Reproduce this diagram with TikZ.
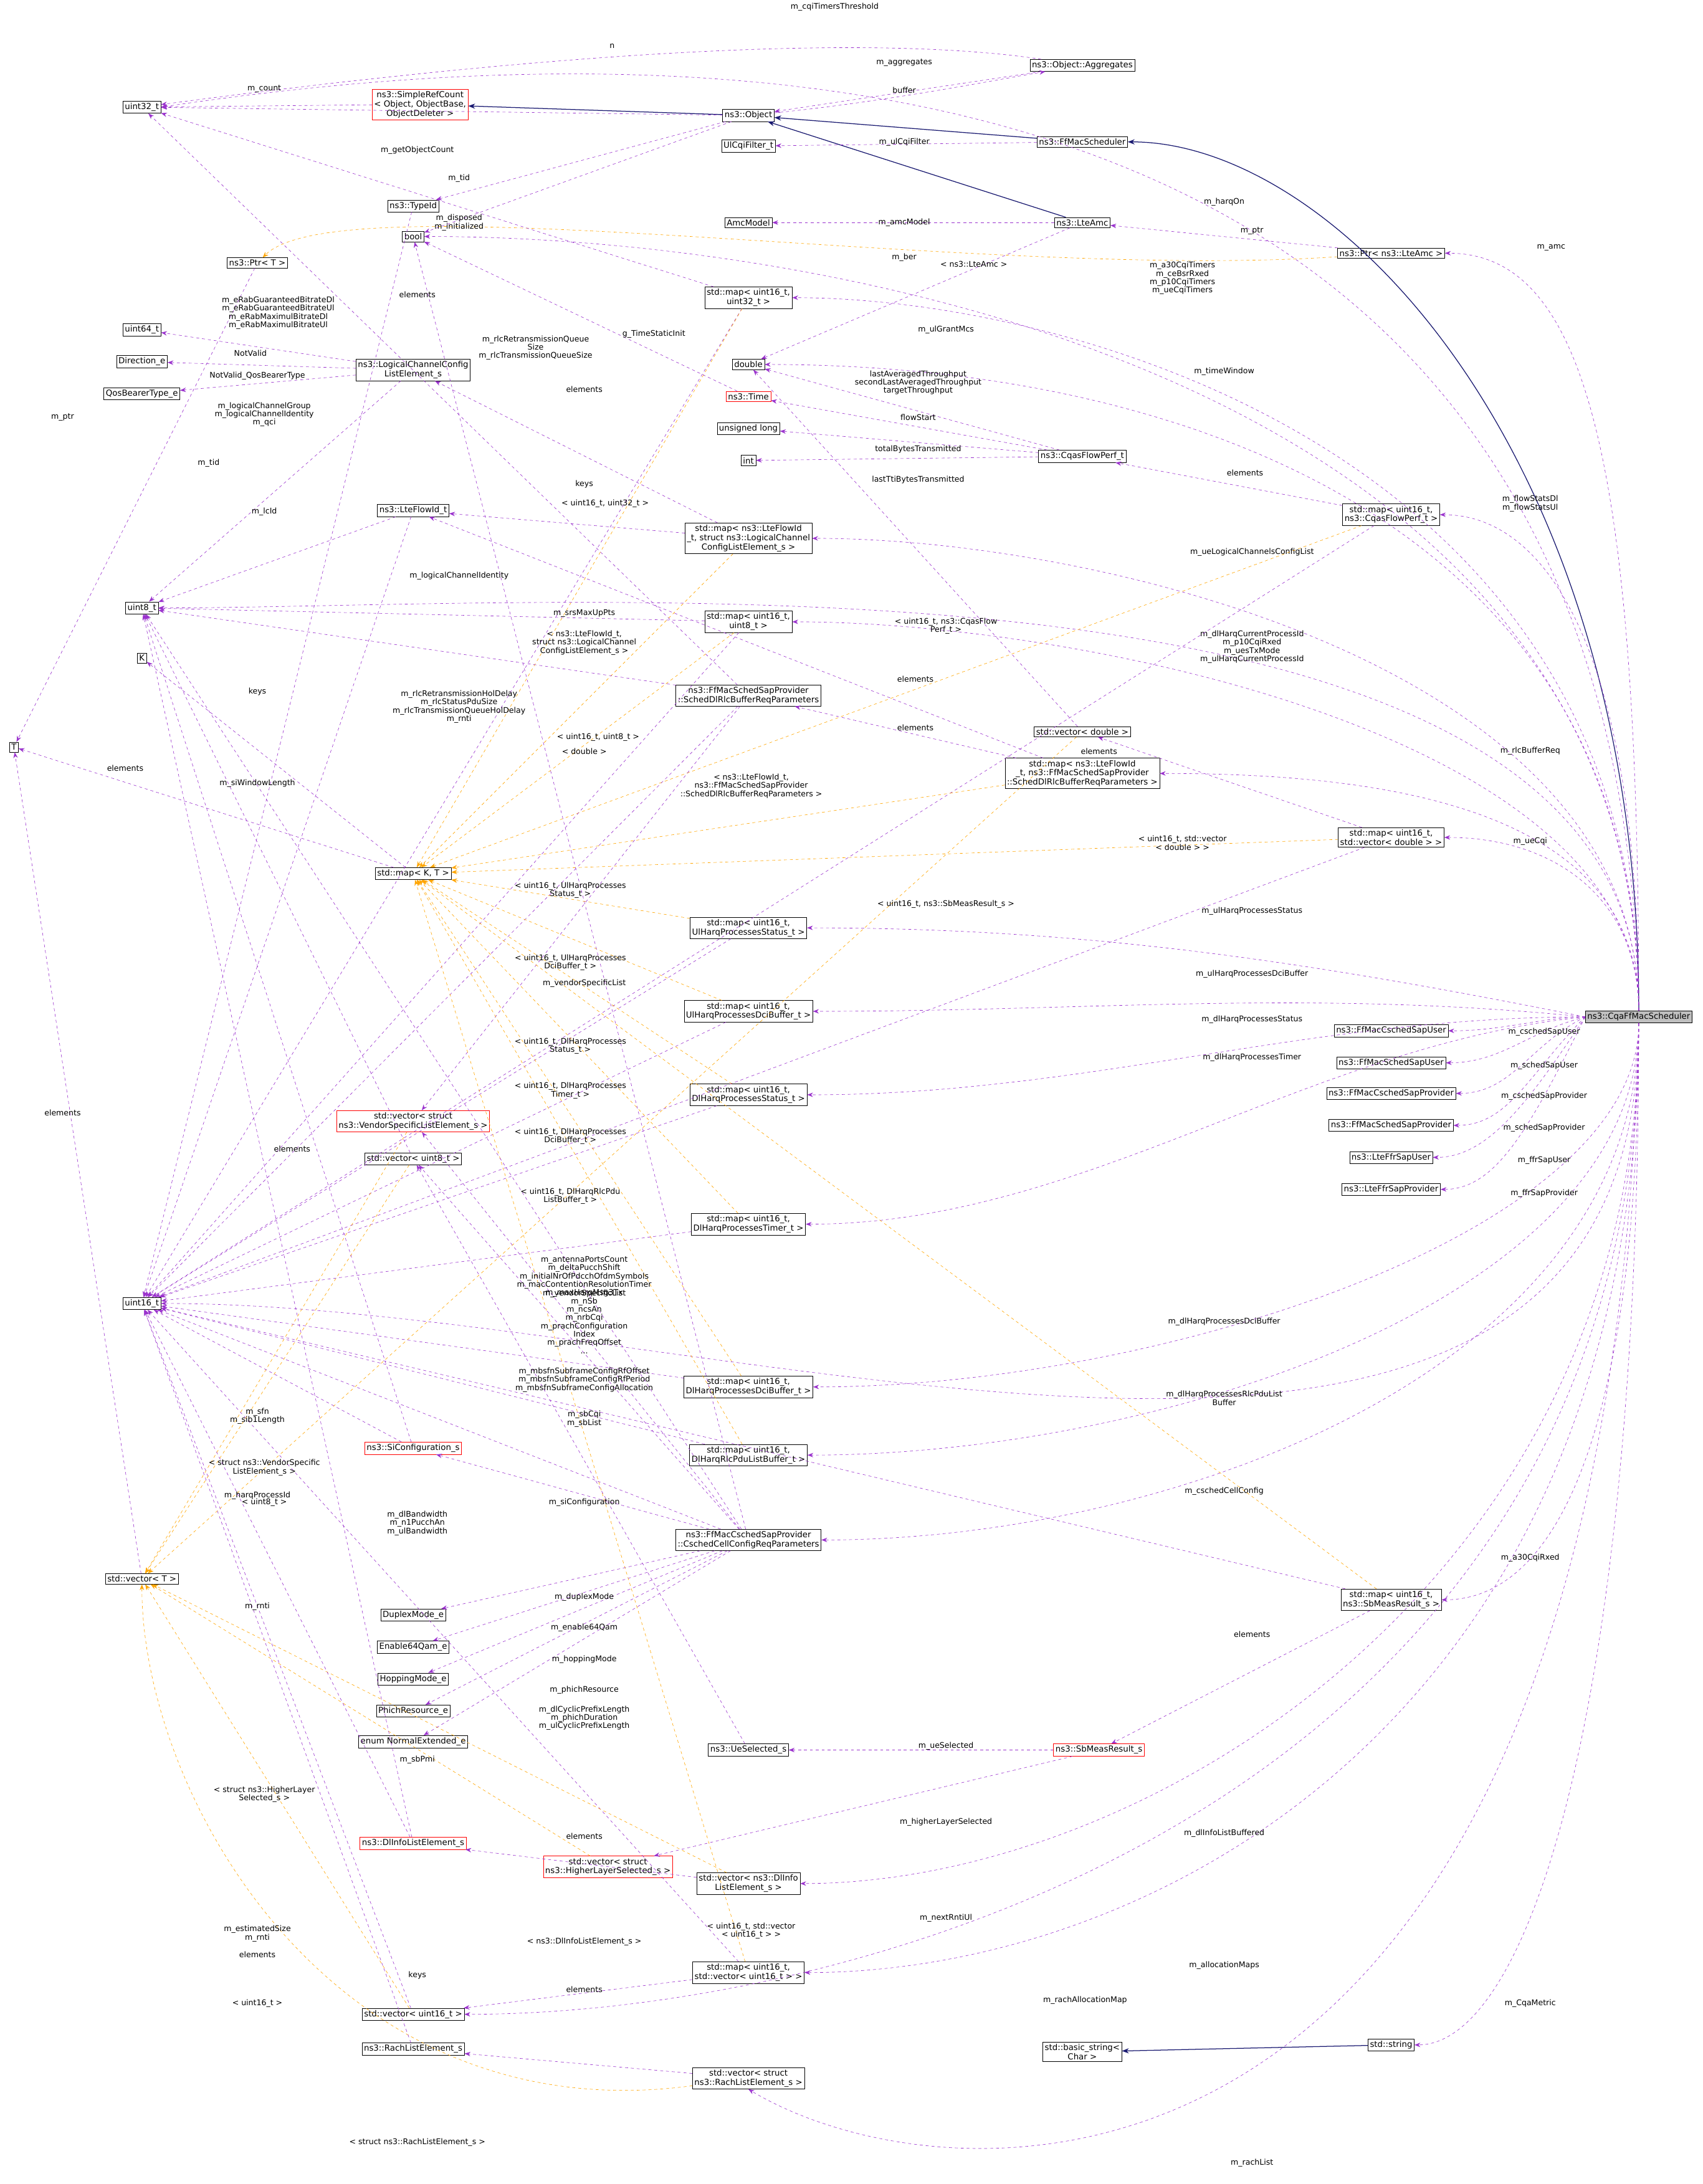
\documentclass[tikz,border=0pt]{standalone}
\usepackage{fontspec}
\setmainfont{DejaVu Sans}
\usepackage{xcolor}
\usetikzlibrary{arrows.meta,shapes,calc}
\definecolor{mem}{HTML}{9A32CD}
\definecolor{tpl}{HTML}{FFA500}
\definecolor{inh}{HTML}{191970}
\begin{document}
\begin{tikzpicture}[x=0.05cm,y=-0.05cm,font=\fontsize{8.5}{9.5}\selectfont]
            \tikzset{box/.style = {draw, inner sep=2pt, align=center, fill=white, font=\fontsize{8.5}{9.5}\selectfont}}
            \tikzset{redbox/.style = {box, draw=red}}
            \tikzset{use/.style = {mem, dashed, -{Stealth[length=6pt]}}}
            \tikzset{inst/.style = {tpl, dashed, -{Stealth[length=6pt]}}}
            \tikzset{base/.style = {inh, thick, -{Stealth[length=7pt,open,fill=inh]}}}
            \tikzset{lbl/.style = {align=center, inner sep=0pt, font=\fontsize{8}{8.5}\selectfont}}
            \useasboundingbox (0,0) rectangle (1224,1570);

            % left column
            \node[box] (u32) at (102,77) {uint32\_t};
            \node[box] (u64) at (102,237) {uint64\_t};
            \node[box] (dir) at (102,260) {Direction\_e};
            \node[box] (qos) at (102,283) {QosBearerType\_e};
            \node[box] (u8) at (102,437) {uint8\_t};
            \node[box] (K) at (102,473) {K};
            \node[box] (T) at (10,537) {T};
            \node[box] (u16) at (102,937) {uint16\_t};
            \node[box] (vecT) at (102,1135) {std::vector\textless{} T \textgreater{}};

            % second column
            \node[redbox] (src) at (302,75) {ns3::SimpleRefCount\\\textless{} Object, ObjectBase,\\ ObjectDeleter \textgreater{}};
            \node[box] (ptrT) at (185,189) {ns3::Ptr\textless{} T \textgreater{}};
            \node[box] (tid) at (297,148) {ns3::TypeId};
            \node[box] (bool) at (297,170) {bool};
            \node[box] (lcc) at (297,266) {ns3::LogicalChannelConfig\\ListElement\_s};
            \node[box] (flow) at (297,367) {ns3::LteFlowId\_t};
            \node[box] (mapKT) at (297,628) {std::map\textless{} K, T \textgreater{}};
            \node[redbox] (vvs) at (297,806) {std::vector\textless{} struct\\ ns3::VendorSpecificListElement\_s \textgreater{}};
            \node[box] (vu8) at (297,833) {std::vector\textless{} uint8\_t \textgreater{}};
            \node[redbox] (sic) at (297,1041) {ns3::SiConfiguration\_s};
            \node[box] (dup) at (297,1161) {DuplexMode\_e};
            \node[box] (e64) at (297,1184) {Enable64Qam\_e};
            \node[box] (hop) at (297,1207) {HoppingMode\_e};
            \node[box] (phi) at (297,1230) {PhichResource\_e};
            \node[box] (nex) at (297,1252) {enum NormalExtended\_e};
            \node[redbox] (dli) at (297,1325) {ns3::DlInfoListElement\_s};
            \node[box] (vu16) at (297,1448) {std::vector\textless{} uint16\_t \textgreater{}};
            \node[box] (rle) at (297,1473) {ns3::RachListElement\_s};

            % third column
            \node[box] (obj) at (538,83) {ns3::Object};
            \node[box] (ulf) at (538,105) {UlCqiFilter\_t};
            \node[box] (amcm) at (538,160) {AmcModel};
            \node[box] (m1632) at (538,214) {std::map\textless{} uint16\_t,\\ uint32\_t \textgreater{}};
            \node[box] (dbl) at (538,262) {double};
            \node[redbox] (time) at (538,285) {ns3::Time};
            \node[box] (ulong) at (538,308) {unsigned long};
            \node[box] (int) at (538,331) {int};
            \node[box] (mflc) at (538,387) {std::map\textless{} ns3::LteFlowId\\\_t, struct ns3::LogicalChannel\\ConfigListElement\_s \textgreater{}};
            \node[box] (m168) at (538,447) {std::map\textless{} uint16\_t,\\ uint8\_t \textgreater{}};
            \node[box] (rlcp) at (538,500) {ns3::FfMacSchedSapProvider\\::SchedDlRlcBufferReqParameters};
            \node[box] (mus) at (538,667) {std::map\textless{} uint16\_t,\\ UlHarqProcessesStatus\_t \textgreater{}};
            \node[box] (mud) at (538,727) {std::map\textless{} uint16\_t,\\ UlHarqProcessesDciBuffer\_t \textgreater{}};
            \node[box] (mds) at (538,787) {std::map\textless{} uint16\_t,\\ DlHarqProcessesStatus\_t \textgreater{}};
            \node[box] (mdt) at (538,880) {std::map\textless{} uint16\_t,\\ DlHarqProcessesTimer\_t \textgreater{}};
            \node[box] (mdd) at (538,997) {std::map\textless{} uint16\_t,\\ DlHarqProcessesDciBuffer\_t \textgreater{}};
            \node[box] (mdr) at (538,1046) {std::map\textless{} uint16\_t,\\ DlHarqRlcPduListBuffer\_t \textgreater{}};
            \node[box] (ccp) at (538,1107) {ns3::FfMacCschedSapProvider\\::CschedCellConfigReqParameters};
            \node[box] (ues) at (538,1258) {ns3::UeSelected\_s};
            \node[redbox] (vhl) at (437,1342) {std::vector\textless{} struct\\ ns3::HigherLayerSelected\_s \textgreater{}};
            \node[box] (vdli) at (538,1354) {std::vector\textless{} ns3::DlInfo\\ListElement\_s \textgreater{}};
            \node[box] (mvu16) at (538,1418) {std::map\textless{} uint16\_t,\\ std::vector\textless{} uint16\_t \textgreater{} \textgreater{}};
            \node[box] (vrle) at (538,1494) {std::vector\textless{} struct\\ ns3::RachListElement\_s \textgreater{}};

            % fourth column
            \node[box] (agg) at (778,47) {ns3::Object::Aggregates};
            \node[box] (ffs) at (778,102) {ns3::FfMacScheduler};
            \node[box] (amc) at (778,160) {ns3::LteAmc};
            \node[box] (pamc) at (1000,182) {ns3::Ptr\textless{} ns3::LteAmc \textgreater{}};
            \node[box] (cfp) at (778,328) {ns3::CqasFlowPerf\_t};
            \node[box] (mcfp) at (1000,370) {std::map\textless{} uint16\_t,\\ ns3::CqasFlowPerf\_t \textgreater{}};
            \node[box] (vdbl) at (778,526) {std::vector\textless{} double \textgreater{}};
            \node[box] (mfrl) at (778,556) {std::map\textless{} ns3::LteFlowId\\\_t, ns3::FfMacSchedSapProvider\\::SchedDlRlcBufferReqParameters \textgreater{}};
            \node[box] (mvd) at (1000,602) {std::map\textless{} uint16\_t,\\ std::vector\textless{} double \textgreater{} \textgreater{}};
            \node[box] (csu) at (1000,741) {ns3::FfMacCschedSapUser};
            \node[box] (ssu) at (1000,764) {ns3::FfMacSchedSapUser};
            \node[box] (csp) at (1000,786) {ns3::FfMacCschedSapProvider};
            \node[box] (ssp) at (1000,809) {ns3::FfMacSchedSapProvider};
            \node[box] (fsu) at (1000,832) {ns3::LteFfrSapUser};
            \node[box] (fsp) at (1000,855) {ns3::LteFfrSapProvider};
            \node[box] (msb) at (1000,1150) {std::map\textless{} uint16\_t,\\ ns3::SbMeasResult\_s \textgreater{}};
            \node[redbox] (sbm) at (790,1258) {ns3::SbMeasResult\_s};
            \node[box] (bstr) at (778,1475) {std::basic\_string\textless{}\\ Char \textgreater{}};
            \node[box] (str) at (1000,1470) {std::string};
            \node[box, fill={rgb,255:red,191;green,191;blue,191}] (cqa) at (1178,731) {ns3::CqaFfMacScheduler};

            % inheritance
            \draw[base] (cqa.north) .. controls +(0,-400) and +(150,0) .. (ffs.east);
            \draw[base] (ffs) -- (obj);
            \draw[base] (amc) -- (obj);
            \draw[base] (obj) -- (src);
            \draw[base] (str) -- (bstr);

            % members of the scheduler
            \draw[use] (cqa.north) .. controls +(-10,-650) and +(500,-75) .. (u32.east);
            \draw[use] (cqa.north) .. controls +(0,-400) and +(100,0) .. (pamc.east);
            \draw[use] (cqa.north) .. controls +(0,-400) and +(200,0) .. (m1632.east);
            \draw[use] (cqa.north) .. controls +(0,-450) and +(300,0) .. (bool.east);
            \draw[use] (cqa.north) .. controls +(0,-350) and +(300,0) .. (u8.east);
            \draw[use] (cqa.north) .. controls +(0,-350) and +(300,0) .. (dbl.east);
            \draw[use] (cqa.north) .. controls +(0,-250) and +(80,0) .. (mcfp.east);
            \draw[use] (cqa.north) .. controls +(0,-250) and +(200,0) .. (mflc.east);
            \draw[use] (cqa.north) .. controls +(0,-200) and +(200,0) .. (m168.east);
            \draw[use] (cqa.north) .. controls +(0,-150) and +(150,0) .. (mfrl.east);
            \draw[use] (cqa.north) .. controls +(0,-80) and +(80,0) .. (mvd.east);
            \draw[use] (cqa.west) .. controls +(-200,-40) and +(200,0) .. (mus.east);
            \draw[use] (cqa.west) .. controls +(-200,-20) and +(200,0) .. (mud.east);
            \draw[use] (cqa.west) .. controls +(-200,0) and +(200,0) .. (mds.east);
            \draw[use] (cqa.west) .. controls +(-200,20) and +(200,0) .. (mdt.east);
            \draw[use] (cqa.west) .. controls +(-30,0) and +(40,0) .. (csu.east);
            \draw[use] (cqa.west) .. controls +(-40,10) and +(40,0) .. (ssu.east);
            \draw[use] (cqa.west) .. controls +(-40,20) and +(40,0) .. (csp.east);
            \draw[use] (cqa.west) .. controls +(-40,40) and +(40,0) .. (ssp.east);
            \draw[use] (cqa.west) .. controls +(-40,60) and +(40,0) .. (fsu.east);
            \draw[use] (cqa.west) .. controls +(-40,80) and +(40,0) .. (fsp.east);
            \draw[use] (cqa.south) .. controls +(0,150) and +(250,0) .. (mdd.east);
            \draw[use] (cqa.south) .. controls +(0,200) and +(250,0) .. (mdr.east);
            \draw[use] (cqa.south) .. controls +(0,250) and +(250,0) .. (ccp.east);
            \draw[use] (cqa.south) .. controls +(0,300) and +(80,0) .. (msb.east);
            \draw[use] (cqa.south) .. controls +(0,400) and +(250,0) .. (vdli.east);
            \draw[use] (cqa.south) .. controls +(0,450) and +(400,0) .. (u16.east);
            \draw[use] (cqa.south) .. controls +(0,500) and +(250,0) .. (mvu16.east);
            \draw[use] (cqa.south) .. controls +(0,550) and +(300,0) .. (vu16.east);
            \draw[use] (cqa.south) .. controls +(0,500) and +(80,0) .. (str.east);
            \draw[use] (cqa.south) .. controls +(-20,880) and +(150,90) .. (vrle.south);
            \node[lbl] (l1) at (600,5) {m\_cqiTimersThreshold};
            \node[lbl] (l2) at (1115,178) {m\_amc};
            \node[lbl] (l3) at (850,200) {m\_a30CqiTimers\\m\_ceBsrRxed\\m\_p10CqiTimers\\m\_ueCqiTimers};
            \node[lbl] (l4) at (880,145) {m\_harqOn};
            \node[lbl] (l5) at (680,237) {m\_ulGrantMcs};
            \node[lbl] (l6) at (880,267) {m\_timeWindow};
            \node[lbl] (l7) at (1100,362) {m\_flowStatsDl\\m\_flowStatsUl};
            \node[lbl] (l8) at (900,397) {m\_ueLogicalChannelsConfigList};
            \node[lbl] (l9) at (900,465) {m\_dlHarqCurrentProcessId\\m\_p10CqiRxed\\m\_uesTxMode\\m\_ulHarqCurrentProcessId};
            \node[lbl] (l10) at (1100,540) {m\_rlcBufferReq};
            \node[lbl] (l11) at (1100,605) {m\_ueCqi};
            \node[lbl] (l12) at (900,655) {m\_ulHarqProcessesStatus};
            \node[lbl] (l13) at (900,700) {m\_ulHarqProcessesDciBuffer};
            \node[lbl] (l14) at (900,733) {m\_dlHarqProcessesStatus};
            \node[lbl] (l15) at (900,760) {m\_dlHarqProcessesTimer};
            \node[lbl] (l16) at (1110,742) {m\_cschedSapUser};
            \node[lbl] (l17) at (1110,766) {m\_schedSapUser};
            \node[lbl] (l18) at (1110,788) {m\_cschedSapProvider};
            \node[lbl] (l19) at (1110,811) {m\_schedSapProvider};
            \node[lbl] (l20) at (1110,834) {m\_ffrSapUser};
            \node[lbl] (l21) at (1110,858) {m\_ffrSapProvider};
            \node[lbl] (l22) at (880,950) {m\_dlHarqProcessesDciBuffer};
            \node[lbl] (l23) at (880,1005) {m\_dlHarqProcessesRlcPduList\\Buffer};
            \node[lbl] (l24) at (880,1072) {m\_cschedCellConfig};
            \node[lbl] (l25) at (1100,1120) {m\_a30CqiRxed};
            \node[lbl] (l26) at (880,1318) {m\_dlInfoListBuffered};
            \node[lbl] (l27) at (680,1379) {m\_nextRntiUl};
            \node[lbl] (l28) at (880,1413) {m\_allocationMaps};
            \node[lbl] (l29) at (780,1438) {m\_rachAllocationMap};
            \node[lbl] (l30) at (1100,1440) {m\_CqaMetric};
            \node[lbl] (l31) at (900,1555) {m\_rachList};

            % members of the other classes
            \draw[use] (obj) -- (u32);
            \draw[use] (src) -- (u32);
            \draw[use] (agg) .. controls +(-200,-30) and +(150,-20) .. (u32);
            \draw[use] (agg) -- (obj);
            \draw[use] (obj) .. controls +(100,-10) and +(-60,10) .. (agg);
            \draw[use] (obj) -- (tid);
            \draw[use] (obj) -- (bool);
            \draw[use] (ffs) -- (ulf);
            \draw[use] (amc) -- (amcm);
            \draw[use] (amc) -- (dbl);
            \draw[use] (pamc) -- (amc);
            \draw[inst] (pamc) .. controls +(-300,20) and +(60,-60) .. (ptrT);
            \draw[use] (ptrT) -- (T);
            \draw[use] (tid) -- (u16);
            \draw[use] (m1632) -- (u32);
            \draw[use] (m1632) -- (u16);
            \draw[inst] (m1632) -- (mapKT);
            \draw[use] (time) -- (bool);
            \draw[use] (lcc) -- (u64);
            \draw[use] (lcc) -- (dir);
            \draw[use] (lcc) -- (qos);
            \draw[use] (lcc) -- (u8);
            \draw[use] (cfp) -- (dbl);
            \draw[use] (cfp) -- (time);
            \draw[use] (cfp) -- (ulong);
            \draw[use] (cfp) -- (int);
            \draw[use] (mcfp) -- (cfp);
            \draw[use] (mcfp) -- (u16);
            \draw[inst] (mcfp) -- (mapKT);
            \draw[use] (flow) -- (u8);
            \draw[use] (flow) -- (u16);
            \draw[use] (mflc) -- (lcc);
            \draw[use] (mflc) -- (flow);
            \draw[inst] (mflc) -- (mapKT);
            \draw[use] (m168) -- (u8);
            \draw[use] (m168) -- (u16);
            \draw[inst] (m168) -- (mapKT);
            \draw[use] (rlcp) -- (u8);
            \draw[use] (rlcp) -- (u16);
            \draw[use] (rlcp) -- (u32);
            \draw[use] (rlcp) -- (vvs);
            \draw[use] (vdbl) -- (dbl);
            \draw[inst] (vdbl) -- (vecT);
            \draw[use] (mfrl) -- (rlcp);
            \draw[use] (mfrl) -- (flow);
            \draw[inst] (mfrl) -- (mapKT);
            \draw[use] (mvd) -- (vdbl);
            \draw[use] (mvd) -- (u16);
            \draw[inst] (mvd) -- (mapKT);
            \draw[use] (mapKT) -- (K);
            \draw[use] (mapKT) -- (T);
            \draw[use] (mus) -- (u16);
            \draw[inst] (mus) -- (mapKT);
            \draw[use] (mud) -- (u16);
            \draw[inst] (mud) -- (mapKT);
            \draw[use] (mds) -- (u16);
            \draw[inst] (mds) -- (mapKT);
            \draw[use] (mdt) -- (u16);
            \draw[inst] (mdt) -- (mapKT);
            \draw[use] (mdd) -- (u16);
            \draw[inst] (mdd) -- (mapKT);
            \draw[use] (mdr) -- (u16);
            \draw[inst] (mdr) -- (mapKT);
            \draw[use] (msb) -- (sbm);
            \draw[use] (msb) -- (u16);
            \draw[inst] (msb) -- (mapKT);
            \draw[use] (mvu16) -- (vu16);
            \draw[use] (mvu16) -- (u16);
            \draw[inst] (mvu16) -- (mapKT);
            \draw[inst] (vvs) -- (vecT);
            \draw[use] (vu8) -- (u8);
            \draw[inst] (vu8) -- (vecT);
            \draw[use] (vu16) -- (u16);
            \draw[inst] (vu16) -- (vecT);
            \draw[use] (vrle) -- (rle);
            \draw[inst] (vrle) .. controls +(-300,40) and +(0,150) .. (vecT.south);
            \draw[inst] (vhl) -- (vecT);
            \draw[use] (vdli) -- (dli);
            \draw[inst] (vdli) -- (vecT);
            \draw[use] (vecT) -- (T);
            \draw[use] (ccp) -- (sic);
            \draw[use] (ccp) -- (u8);
            \draw[use] (ccp) -- (u16);
            \draw[use] (ccp) -- (bool);
            \draw[use] (ccp) -- (dup);
            \draw[use] (ccp) -- (e64);
            \draw[use] (ccp) -- (hop);
            \draw[use] (ccp) -- (phi);
            \draw[use] (ccp) -- (nex);
            \draw[use] (ccp) -- (vu8);
            \draw[use] (ccp) -- (vvs);
            \draw[use] (sic) -- (u8);
            \draw[use] (sic) -- (u16);
            \draw[use] (dli) -- (u8);
            \draw[use] (dli) -- (u16);
            \draw[use] (ues) -- (vu8);
            \draw[use] (sbm) -- (ues);
            \draw[use] (sbm) -- (vhl);
            \draw[use] (rle) -- (u16);

            \node[lbl] (k1) at (300,108) {m\_getObjectCount};
            \node[lbl] (k2) at (190,64) {m\_count};
            \node[lbl] (k3) at (440,33) {n};
            \node[lbl] (k4) at (650,45) {m\_aggregates};
            \node[lbl] (k5) at (650,65) {buffer};
            \node[lbl] (k6) at (330,128) {m\_tid};
            \node[lbl] (k7) at (330,160) {m\_disposed\\m\_initialized};
            \node[lbl] (k8) at (650,102) {m\_ulCqiFilter};
            \node[lbl] (k9) at (650,160) {m\_amcModel};
            \node[lbl] (k10) at (650,185) {m\_ber};
            \node[lbl] (k11) at (900,166) {m\_ptr};
            \node[lbl] (k12) at (700,190) {\textless{} ns3::LteAmc \textgreater{}};
            \node[lbl] (k13) at (45,300) {m\_ptr};
            \node[lbl] (k14) at (150,333) {m\_tid};
            \node[lbl] (k15) at (300,212) {elements};
            \node[lbl] (k16) at (435,362) {\textless{} uint16\_t, uint32\_t \textgreater{}};
            \node[lbl] (k17) at (470,240) {g\_TimeStaticInit};
            \node[lbl] (k18) at (200,225) {m\_eRabGuaranteedBitrateDl\\m\_eRabGuaranteedBitrateUl\\m\_eRabMaximulBitrateDl\\m\_eRabMaximulBitrateUl};
            \node[lbl] (k19) at (180,254) {NotValid};
            \node[lbl] (k20) at (185,270) {NotValid\_QosBearerType};
            \node[lbl] (k21) at (190,298) {m\_logicalChannelGroup\\m\_logicalChannelIdentity\\m\_qci};
            \node[lbl] (k22) at (660,275) {lastAveragedThroughput\\secondLastAveragedThroughput\\targetThroughput};
            \node[lbl] (k23) at (660,300) {flowStart};
            \node[lbl] (k24) at (660,323) {totalBytesTransmitted};
            \node[lbl] (k25) at (660,345) {lastTtiBytesTransmitted};
            \node[lbl] (k26) at (895,340) {elements};
            \node[lbl] (k27) at (680,450) {\textless{} uint16\_t, ns3::CqasFlow\\Perf\_t \textgreater{}};
            \node[lbl] (k28) at (190,368) {m\_lcId};
            \node[lbl] (k29) at (420,280) {elements};
            \node[lbl] (k30) at (420,348) {keys};
            \node[lbl] (k31) at (420,462) {\textless{} ns3::LteFlowId\_t,\\struct ns3::LogicalChannel\\ConfigListElement\_s \textgreater{}};
            \node[lbl] (k32) at (430,530) {\textless{} uint16\_t, uint8\_t \textgreater{}};
            \node[lbl] (k33) at (330,414) {m\_logicalChannelIdentity};
            \node[lbl] (k34) at (330,508) {m\_rlcRetransmissionHolDelay\\m\_rlcStatusPduSize\\m\_rlcTransmissionQueueHolDelay\\m\_rnti};
            \node[lbl] (k35) at (385,250) {m\_rlcRetransmissionQueue\\Size\\m\_rlcTransmissionQueueSize};
            \node[lbl] (k36) at (420,707) {m\_vendorSpecificList};
            \node[lbl] (k37) at (658,488) {elements};
            \node[lbl] (k38) at (420,540) {\textless{} double \textgreater{}};
            \node[lbl] (k39) at (658,523) {elements};
            \node[lbl] (k40) at (540,565) {\textless{} ns3::LteFlowId\_t,\\ns3::FfMacSchedSapProvider\\::SchedDlRlcBufferReqParameters \textgreater{}};
            \node[lbl] (k41) at (790,540) {elements};
            \node[lbl] (k42) at (850,606) {\textless{} uint16\_t, std::vector\\\textless{} double \textgreater{} \textgreater{}};
            \node[lbl] (k43) at (185,497) {keys};
            \node[lbl] (k44) at (90,552) {elements};
            \node[lbl] (k45) at (410,640) {\textless{} uint16\_t, UlHarqProcesses\\Status\_t \textgreater{}};
            \node[lbl] (k46) at (410,692) {\textless{} uint16\_t, UlHarqProcesses\\DciBuffer\_t \textgreater{}};
            \node[lbl] (k47) at (410,752) {\textless{} uint16\_t, DlHarqProcesses\\Status\_t \textgreater{}};
            \node[lbl] (k48) at (410,784) {\textless{} uint16\_t, DlHarqProcesses\\Timer\_t \textgreater{}};
            \node[lbl] (k49) at (410,817) {\textless{} uint16\_t, DlHarqProcesses\\DciBuffer\_t \textgreater{}};
            \node[lbl] (k50) at (410,860) {\textless{} uint16\_t, DlHarqRlcPdu\\ListBuffer\_t \textgreater{}};
            \node[lbl] (k51) at (680,650) {\textless{} uint16\_t, ns3::SbMeasResult\_s \textgreater{}};
            \node[lbl] (k52) at (900,1175) {elements};
            \node[lbl] (k53) at (420,1430) {elements};
            \node[lbl] (k54) at (300,1420) {keys};
            \node[lbl] (k55) at (540,1388) {\textless{} uint16\_t, std::vector\\\textless{} uint16\_t \textgreater{} \textgreater{}};
            \node[lbl] (k56) at (190,1055) {\textless{} struct ns3::VendorSpecific\\ListElement\_s \textgreater{}};
            \node[lbl] (k57) at (210,826) {elements};
            \node[lbl] (k58) at (190,1080) {\textless{} uint8\_t \textgreater{}};
            \node[lbl] (k59) at (185,1405) {elements};
            \node[lbl] (k60) at (185,1440) {\textless{} uint16\_t \textgreater{}};
            \node[lbl] (k61) at (300,1540) {\textless{} struct ns3::RachListElement\_s \textgreater{}};
            \node[lbl] (k62) at (190,1290) {\textless{} struct ns3::HigherLayer\\Selected\_s \textgreater{}};
            \node[lbl] (k63) at (420,1320) {elements};
            \node[lbl] (k64) at (420,1396) {\textless{} ns3::DlInfoListElement\_s \textgreater{}};
            \node[lbl] (k65) at (45,800) {elements};
            \node[lbl] (k66) at (420,1080) {m\_siConfiguration};
            \node[lbl] (k67) at (420,938) {m\_antennaPortsCount\\m\_deltaPucchShift\\m\_initialNrOfPdcchOfdmSymbols\\m\_macContentionResolutionTimer\\m\_maxHarqMsg3Tx\\m\_nSb\\m\_ncsAn\\m\_nrbCqi\\m\_prachConfiguration\\Index\\m\_prachFreqOffset\\...};
            \node[lbl] (k68) at (300,1095) {m\_dlBandwidth\\m\_n1PucchAn\\m\_ulBandwidth};
            \node[lbl] (k69) at (420,1148) {m\_duplexMode};
            \node[lbl] (k70) at (420,1170) {m\_enable64Qam};
            \node[lbl] (k71) at (420,1193) {m\_hoppingMode};
            \node[lbl] (k72) at (420,1215) {m\_phichResource};
            \node[lbl] (k73) at (420,1235) {m\_dlCyclicPrefixLength\\m\_phichDuration\\m\_ulCyclicPrefixLength};
            \node[lbl] (k74) at (420,992) {m\_mbsfnSubframeConfigRfOffset\\m\_mbsfnSubframeConfigRfPeriod\\m\_mbsfnSubframeConfigAllocation};
            \node[lbl] (k75) at (420,930) {m\_vendorSpecificList};
            \node[lbl] (k76) at (420,441) {m\_srsMaxUpPts};
            \node[lbl] (k77) at (185,563) {m\_siWindowLength};
            \node[lbl] (k78) at (185,1018) {m\_sfn\\m\_sib1Length};
            \node[lbl] (k79) at (185,1155) {m\_rnti};
            \node[lbl] (k80) at (185,1075) {m\_harqProcessId};
            \node[lbl] (k81) at (420,1020) {m\_sbCqi\\m\_sbList};
            \node[lbl] (k82) at (300,1265) {m\_sbPmi};
            \node[lbl] (k83) at (680,1255) {m\_ueSelected};
            \node[lbl] (k84) at (680,1310) {m\_higherLayerSelected};
            \node[lbl] (k85) at (185,1390) {m\_estimatedSize\\m\_rnti};
          \end{tikzpicture}
\end{document}
